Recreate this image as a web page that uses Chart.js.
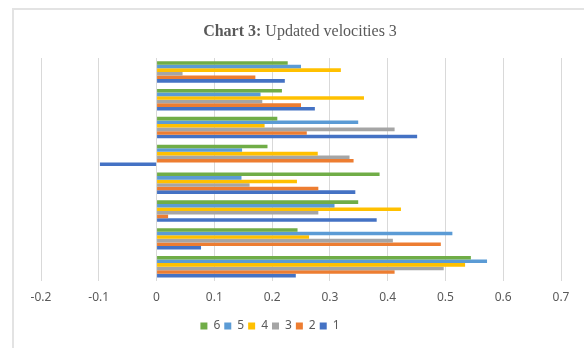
<!DOCTYPE html>
<html>
<head>
<meta charset="utf-8">
<script src="https://cdn.jsdelivr.net/npm/chart.js@4"></script>
<style>
  body { margin: 0; background: #fff; }
  #wrap { position: relative; width: 584px; height: 348px; overflow: hidden; }
  #frame {
    position: absolute; left: 12px; top: 8px; width: 600px; height: 400px;
    border-top: 2px solid #e3e3e3; border-left: 2px solid #e3e3e3; pointer-events: none;
  }
  #title {
    position: absolute; left: 0; top: 22px; width: 600px; text-align: center;
    font-family: "Liberation Serif", serif; font-size: 16px; color: #595959;
  }
  canvas { position: absolute; left: 0; top: 0; }
</style>
</head>
<body>
<div id="wrap">
  <canvas id="chart" width="584" height="348"></canvas>
  <div id="frame"></div>
  <div id="title"><b>Chart 3:</b> Updated velocities 3</div>
</div>
<script>
// groups listed top to bottom, as they appear in the picture
const groups = ["8", "7", "6", "5", "4", "3", "2", "1"];
const xTicks = [-0.2, -0.1, 0, 0.1, 0.2, 0.3, 0.4, 0.5, 0.6, 0.7];

const s6 = [0.227, 0.217, 0.209, 0.192, 0.386, 0.349, 0.244, 0.544];
const s5 = [0.250, 0.180, 0.349, 0.148, 0.147, 0.308, 0.512, 0.572];
const s4 = [0.319, 0.359, 0.187, 0.279, 0.243, 0.423, 0.264, 0.534];
const s3 = [0.045, 0.183, 0.412, 0.334, 0.161, 0.280, 0.409, 0.497];
const s2 = [0.171, 0.250, 0.260, 0.341, 0.280, 0.020, 0.492, 0.412];
const s1 = [0.222, 0.274, 0.451, -0.098, 0.344, 0.381, 0.077, 0.241];

const mk = (label, data, color) => ({
    label: label,
    data: data,
    backgroundColor: color,
    borderWidth: 0,
    categoryPercentage: 0.77,
    barPercentage: 1.0,
});

// excel put the legend a bit left of centre, nudge it there
const legendNudge = {
    id: "legendNudge",
    afterLayout(chart) {
        const lg = chart.legend;
        lg.left -= 31;
        lg.right -= 31;
        lg.top += 1;
        lg.bottom += 1;
    },
};

var ctx = document.querySelector("#chart").getContext("2d");
var chart = new Chart(ctx, {
    type: "bar",
    data: {
        labels: groups,
        datasets: [
            mk("6", s6, "#70AD47"),
            mk("5", s5, "#5B9BD5"),
            mk("4", s4, "#FFC000"),
            mk("3", s3, "#A5A5A5"),
            mk("2", s2, "#ED7D31"),
            mk("1", s1, "#4472C4"),
        ],
    },
    options: {
        indexAxis: "y",
        responsive: false,
        animation: false,
        layout: {
            padding: { left: 41, right: 23, top: 58, bottom: 7 },
        },
        scales: {
            x: {
                min: -0.2,
                max: 0.7,
                afterBuildTicks: (axis) => {
                    axis.ticks = xTicks.map((v) => ({ value: v }));
                },
                grid: { color: "#d9d9d9", drawTicks: false },
                border: { display: false },
                ticks: {
                    padding: 10,
                    color: "#595959",
                    font: { family: "Noto Sans", size: 12 },
                    callback: (v) => String(Math.round(v * 10) / 10),
                },
            },
            y: {
                display: false,
            },
        },
        plugins: {
            legend: {
                position: "bottom",
                labels: {
                    boxWidth: 7,
                    boxHeight: 7,
                    padding: 4,
                    color: "#595959",
                    font: { family: "Noto Sans", size: 12 },
                },
            },
            tooltip: { enabled: false },
        },
    },
    plugins: [legendNudge],
});
</script>
</body>
</html>
